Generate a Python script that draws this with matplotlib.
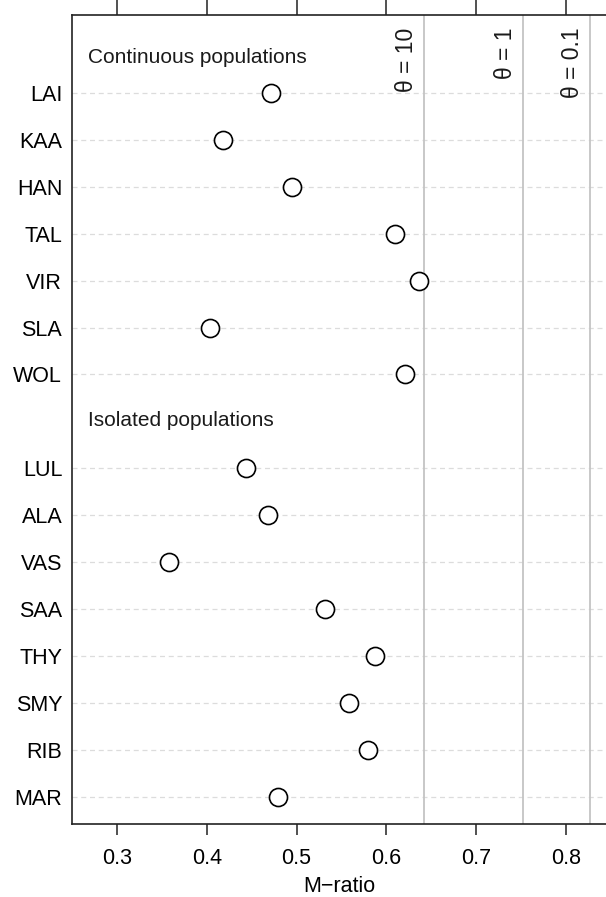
import matplotlib
matplotlib.use("Agg")
import matplotlib.pyplot as plt

plt.rcParams['font.family'] = ['Liberation Sans', 'DejaVu Sans']

# populations, top to bottom
continuous_pops = ['LAI', 'KAA', 'HAN', 'TAL', 'VIR', 'SLA', 'WOL']
continuous_m = [0.472, 0.418, 0.495, 0.610, 0.636, 0.404, 0.621]

isolated_pops = ['LUL', 'ALA', 'VAS', 'SAA', 'THY', 'SMY', 'RIB', 'MAR']
isolated_m = [0.444, 0.468, 0.358, 0.532, 0.587, 0.558, 0.579, 0.479]

# critical M-ratio thresholds
theta_labels = ['\u03b8 = 10', '\u03b8 = 1', '\u03b8 = 0.1']
theta_values = [0.642, 0.752, 0.8265]

x_ticks = [0.3, 0.4, 0.5, 0.6, 0.7, 0.8]

fig = plt.figure(figsize=(6.06, 8.97), dpi=100)
ax = fig.add_axes([0.1188, 0.0814, 0.8812, 0.9019])

# row positions: continuous group, one blank row for header, isolated group
cont_rows = list(range(len(continuous_pops)))
iso_rows = [len(continuous_pops) + 1 + i for i in range(len(isolated_pops))]
rows = cont_rows + iso_rows
labels = continuous_pops + isolated_pops
values = continuous_m + isolated_m

for r in rows:
    ax.axhline(r, color='#dcdcdc', lw=0.9, ls=(0, (4, 3)), zorder=0)

for tv in theta_values:
    ax.axvline(tv, color='#c4c4c4', lw=1.3, zorder=1)

ax.plot(values, rows, 'o', ms=13, mfc='white', mec='black', mew=1.2,
        ls='none', zorder=3)

ax.set_xlim(0.25, 0.8445)
ax.set_ylim(15.58, -1.66)

ax.set_yticks(rows)
ax.set_yticklabels(labels, fontsize=15.5)
ax.tick_params(axis='y', length=0, pad=7)

ax.set_xticks(x_ticks)
ax.set_xticklabels([f'{t:.1f}' for t in x_ticks], fontsize=15.5)
ax.tick_params(axis='x', which='major', top=True, bottom=True, direction='out',
               length=8, width=1.1, pad=9, labeltop=False, color='#222222')
ax.set_xlabel('M\u2212ratio', fontsize=15.5, labelpad=5)

# longer ticks on top
for t in ax.xaxis.get_major_ticks():
    t.tick2line.set_markersize(11)

ax.spines['right'].set_visible(False)
for s in ['left', 'top', 'bottom']:
    ax.spines[s].set_linewidth(1.2)
    ax.spines[s].set_color('#222222')

ax.text(0.2675, -0.76, 'Continuous populations', fontsize=15,
        ha='left', va='center', color='#1a1a1a')
ax.text(0.2675, 6.99, 'Isolated populations', fontsize=15,
        ha='left', va='center', color='#1a1a1a')

for lab, tv in zip(theta_labels, theta_values):
    ax.text(tv - 0.007, -1.39, lab, rotation=90, fontsize=16.5,
            ha='right', va='top', color='#1a1a1a')

fig.savefig('out.png', dpi=100)
